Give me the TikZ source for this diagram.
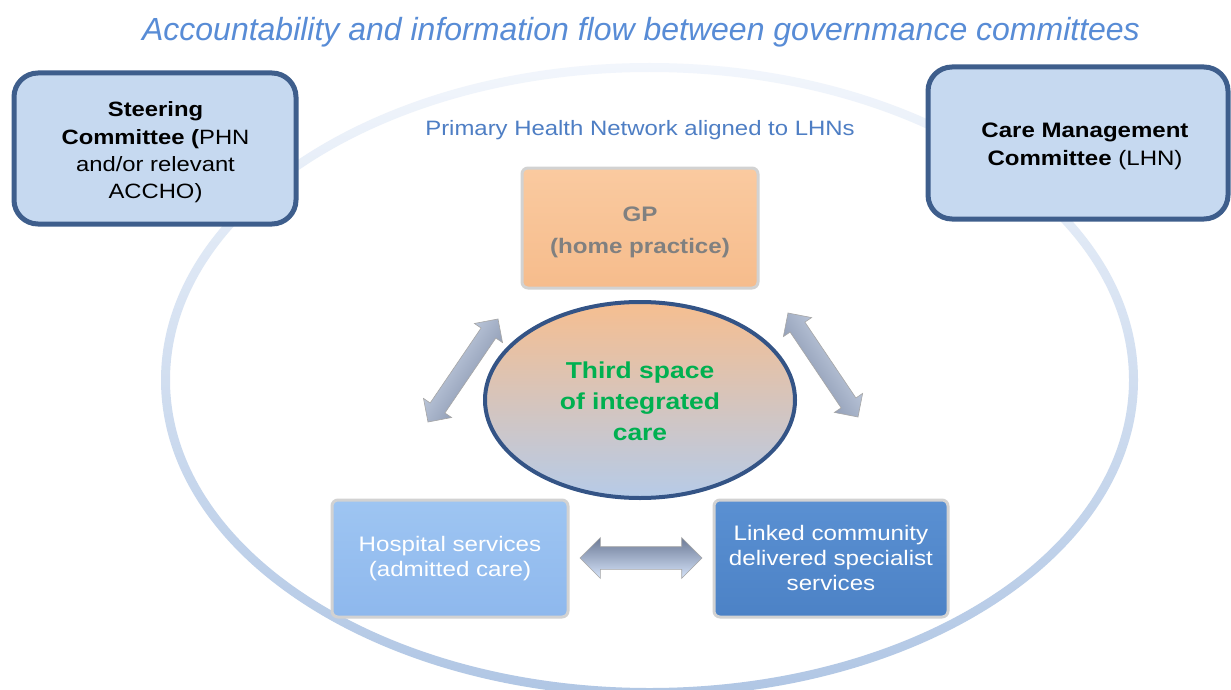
\documentclass[tikz,border=0pt]{standalone}
\usepackage{fontspec}
\setmainfont{Liberation Sans}
\newfontfamily\widefont[FakeStretch=1.15]{Liberation Sans}
\usetikzlibrary{shapes.geometric,shapes.arrows}
\definecolor{titleblue}{RGB}{88,140,214}
\definecolor{phnblue}{RGB}{78,126,196}
\definecolor{ringtop}{RGB}{242,246,252}
\definecolor{ringbot}{RGB}{176,198,228}
\definecolor{comfill}{RGB}{198,217,240}
\definecolor{comedge}{RGB}{62,94,140}
\definecolor{gpfill}{RGB}{246,188,140}
\definecolor{gptop}{RGB}{250,202,160}
\definecolor{gptext}{RGB}{128,128,128}
\definecolor{elltop}{RGB}{246,190,144}
\definecolor{ellmid}{RGB}{205,196,200}
\definecolor{ellbot}{RGB}{182,203,232}
\definecolor{elledge}{RGB}{52,84,134}
\definecolor{careGreen}{RGB}{0,176,80}
\definecolor{hospfill}{RGB}{142,184,237}
\definecolor{hosptop}{RGB}{158,197,242}
\definecolor{linkfill}{RGB}{76,130,198}
\definecolor{linktop}{RGB}{90,144,210}
\definecolor{arrlight}{RGB}{214,224,240}
\definecolor{arrmid}{RGB}{186,198,222}
\definecolor{arrdark}{RGB}{118,132,160}
\definecolor{barrtop}{RGB}{108,122,150}
\definecolor{barrbot}{RGB}{214,228,250}
\begin{document}
\begin{tikzpicture}[x=1pt,y=-1pt,
  combox/.style={draw=comedge, line width=5pt, fill=comfill, rounded corners=24pt, inner sep=0pt},
  svcbox/.style={draw=gray!35, line width=3pt, rounded corners=6pt, inner sep=0pt,
    minimum width=236pt, minimum height=117pt},
  boxtext/.style={align=center, inner sep=0pt},
  fatarrow/.style={double arrow, draw=gray!70, line width=0.6pt, inner sep=0pt, minimum height=#1,
    minimum width=34pt, double arrow head extend=8pt, sloped}]
\useasboundingbox (0,0) rectangle (1231,690);
\fill[white] (0,0) rectangle (1231,690);
% outer ring
\shade[top color=ringtop, bottom color=ringbot, even odd rule]
  (649.5,380) ellipse [x radius=488.5, y radius=317]
  (649.5,380) ellipse [x radius=479.5, y radius=308];
% title
\node (title) at (641,32) {\fontsize{32}{38}\selectfont\itshape\color{titleblue}Accountability and information flow between governmance committees};
% committees
\node[combox, minimum width=282pt, minimum height=151pt] (steer) at (155,148.5) {};
\node[boxtext, font=\widefont\fontsize{20.7}{27.3}\selectfont] (steertext) at (155.5,152.5)
  {\textbf{Steering}\\\textbf{Committee (}PHN\\and/or relevant\\ACCHO)};
\node[combox, minimum width=300pt, minimum height=152pt] (care) at (1078,143) {};
\node[boxtext, font=\widefont\fontsize{20.9}{28}\selectfont] (caretext) at (1085,146)
  {\textbf{Care Management}\\\textbf{Committee} (LHN)};
\node (phn) at (640,130) {\widefont\fontsize{20.8}{24}\selectfont\color{phnblue}Primary Health Network aligned to LHNs};
% GP
\node[svcbox, minimum height=120pt, top color=gptop, bottom color=gpfill] (gp) at (640,228) {};
\node[boxtext, font=\widefont\fontsize{21}{32}\selectfont\bfseries, text=gptext] (gptext) at (640,232)
  {GP\\(home practice)};
% third space
\node[ellipse, draw=elledge, line width=4pt, minimum width=310pt, minimum height=196pt,
  top color=elltop, middle color=ellmid, bottom color=ellbot, inner sep=0pt] (third) at (640,400) {};
\node[boxtext, font=\widefont\fontsize{23}{31}\selectfont\bfseries, text=careGreen] (thirdtext) at (640,401.5)
  {Third space\\of integrated\\care};
% services
\node[svcbox, top color=hosptop, bottom color=hospfill] (hosp) at (450,558.5) {};
\node[boxtext, text=white, font=\widefont\fontsize{21}{25}\selectfont] (hosptext) at (450,558.5)
  {Hospital services\\(admitted care)};
\node[svcbox, minimum width=234pt, top color=linktop, bottom color=linkfill] (link) at (831,558.5) {};
\node[boxtext, text=white, font=\widefont\fontsize{21}{25}\selectfont] (linktext) at (831,558)
  {Linked community\\delivered specialist\\services};
% arrows
\coordinate (la1) at (428,422);
\coordinate (la2) at (498,319);
\coordinate (ra1) at (788,313);
\coordinate (ra2) at (858,417);
\coordinate (ba1) at (580,558);
\coordinate (ba2) at (702,558);
\path (la1) -- (la2) node[midway, fatarrow=124.6pt,
  top color=arrlight, middle color=arrmid, bottom color=arrdark, shading angle=56] (larr) {\rule{0pt}{17pt}};
\path (ra1) -- (ra2) node[midway, fatarrow=125.4pt,
  top color=arrlight, middle color=arrmid, bottom color=arrdark, shading angle=-56] (rarr) {\rule{0pt}{17pt}};
\path (ba1) -- (ba2) node[midway, fatarrow=122pt, minimum width=40pt, double arrow head extend=9pt,
  top color=barrtop, middle color=arrmid, bottom color=barrbot] (barr) {\rule{0pt}{22pt}};
\end{tikzpicture}
\end{document}
